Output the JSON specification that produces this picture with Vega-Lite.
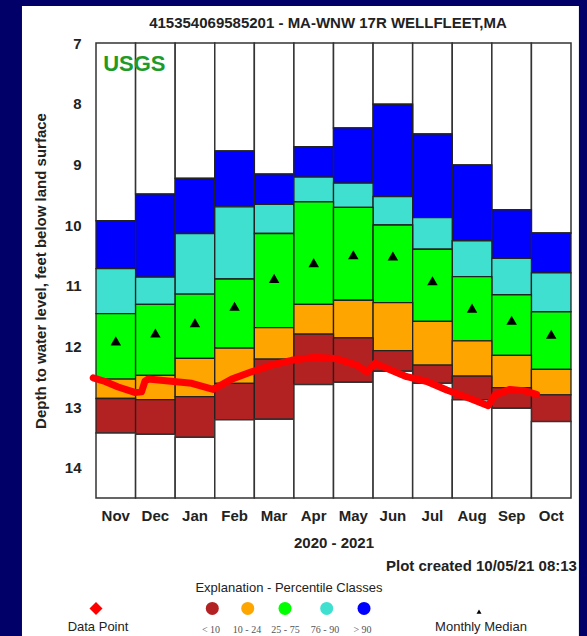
{
  "$schema": "https://vega.github.io/schema/vega-lite/v6.json",
  "width": 475,
  "height": 455,
  "autosize": {"type": "none"},
  "padding": {"left": 96, "top": 43, "right": 16, "bottom": 138},
  "background": "white",
  "config": {"view": {"stroke": null}, "font": "Liberation Sans"},
  "data": {"values": [
    {"month": "Nov", "p100": 9.93, "p90": 10.72, "p75": 11.46, "p25": 12.54, "p10": 12.86, "p0": 13.43, "med": 11.91},
    {"month": "Dec", "p100": 9.49, "p90": 10.86, "p75": 11.31, "p25": 12.48, "p10": 12.88, "p0": 13.45, "med": 11.78},
    {"month": "Jan", "p100": 9.23, "p90": 10.14, "p75": 11.14, "p25": 12.2, "p10": 12.83, "p0": 13.5, "med": 11.61},
    {"month": "Feb", "p100": 8.78, "p90": 9.7, "p75": 10.89, "p25": 12.03, "p10": 12.61, "p0": 13.21, "med": 11.34},
    {"month": "Mar", "p100": 9.16, "p90": 9.66, "p75": 10.14, "p25": 11.69, "p10": 12.21, "p0": 13.2, "med": 10.88},
    {"month": "Apr", "p100": 8.71, "p90": 9.21, "p75": 9.62, "p25": 11.31, "p10": 11.8, "p0": 12.63, "med": 10.62},
    {"month": "May", "p100": 8.4, "p90": 9.31, "p75": 9.71, "p25": 11.24, "p10": 11.86, "p0": 12.59, "med": 10.49},
    {"month": "Jun", "p100": 8.01, "p90": 9.53, "p75": 10.0, "p25": 11.28, "p10": 12.07, "p0": 12.41, "med": 10.51},
    {"month": "Jul", "p100": 8.5, "p90": 9.88, "p75": 10.4, "p25": 11.59, "p10": 12.31, "p0": 12.61, "med": 10.92},
    {"month": "Aug", "p100": 9.01, "p90": 10.26, "p75": 10.85, "p25": 11.91, "p10": 12.49, "p0": 12.88, "med": 11.37},
    {"month": "Sep", "p100": 9.75, "p90": 10.55, "p75": 11.15, "p25": 12.15, "p10": 12.68, "p0": 13.02, "med": 11.57},
    {"month": "Oct", "p100": 10.13, "p90": 10.79, "p75": 11.43, "p25": 12.38, "p10": 12.8, "p0": 13.24, "med": 11.8}
  ]},
  "resolve": {"scale": {"x": "independent"}},
  "layer": [
    {
      "data": {"values": [{}]},
      "layer": [
        {
          "mark": {"type": "rect", "fill": "#000068", "clip": false},
          "encoding": {
            "x": {"datum": -3, "type": "quantitative", "scale": {"domain": [0, 12], "nice": false, "zero": false}, "axis": null},
            "x2": {"datum": -1.87},
            "y": {"datum": 6.0, "type": "quantitative"},
            "y2": {"datum": 17}
          }
        },
        {
          "mark": {"type": "rect", "fill": "#000068", "clip": false},
          "encoding": {
            "x": {"datum": 12.2, "type": "quantitative", "axis": null},
            "x2": {"datum": 12.6},
            "y": {"datum": 6.0, "type": "quantitative"},
            "y2": {"datum": 17}
          }
        },
        {
          "mark": {"type": "rect", "fill": "#000068", "clip": false},
          "encoding": {
            "x": {"datum": -3, "type": "quantitative", "axis": null},
            "x2": {"datum": 12.6},
            "y": {"datum": 6.0, "type": "quantitative"},
            "y2": {"datum": 6.39}
          }
        }
      ]
    },
    {
      "encoding": {
        "x": {"field": "month", "type": "nominal",
          "scale": {"domain": ["Nov", "Dec", "Jan", "Feb", "Mar", "Apr", "May", "Jun", "Jul", "Aug", "Sep", "Oct"], "paddingInner": 0, "paddingOuter": 0},
          "axis": {"ticks": false, "tickSize": 0, "domain": false, "grid": false, "labelAngle": 0, "labelFontSize": 15, "labelFontWeight": "bold", "labelColor": "#222222", "labelPadding": 10, "title": "2020 - 2021", "titleFontSize": 15, "titleFontWeight": "bold", "titleColor": "#222222", "titlePadding": 12, "zindex": 1}}
      },
      "layer": [
        {
          "mark": {"type": "bar", "fill": "white", "stroke": "#333333", "strokeWidth": 1.5},
          "encoding": {
            "y": {"field": "p100", "type": "quantitative",
              "scale": {"domain": [7, 14.5], "reverse": true, "nice": false, "zero": false},
              "axis": {"orient": "left", "values": [7, 8, 9, 10, 11, 12, 13, 14], "format": "d", "ticks": false, "tickSize": 0, "domain": false, "grid": false, "labelFontSize": 15, "labelFontWeight": "bold", "labelColor": "#222222", "labelPadding": 15, "title": "Depth to water level, feet below land surface", "titleFontSize": 15, "titleFontWeight": "bold", "titleColor": "#222222", "titlePadding": 16, "zindex": 1}},
            "y2": {"datum": 7}
          }
        },
        {
          "mark": {"type": "bar", "fill": "#0000FF", "stroke": "#222222", "strokeWidth": 1.3},
          "encoding": {"y": {"field": "p100", "type": "quantitative"}, "y2": {"field": "p90"}}
        },
        {
          "mark": {"type": "bar", "fill": "#40E0D0", "stroke": "#222222", "strokeWidth": 1.3},
          "encoding": {"y": {"field": "p90", "type": "quantitative"}, "y2": {"field": "p75"}}
        },
        {
          "mark": {"type": "bar", "fill": "#00FF00", "stroke": "#222222", "strokeWidth": 1.3},
          "encoding": {"y": {"field": "p75", "type": "quantitative"}, "y2": {"field": "p25"}}
        },
        {
          "mark": {"type": "bar", "fill": "#FFA500", "stroke": "#222222", "strokeWidth": 1.3},
          "encoding": {"y": {"field": "p25", "type": "quantitative"}, "y2": {"field": "p10"}}
        },
        {
          "mark": {"type": "bar", "fill": "#B22222", "stroke": "#222222", "strokeWidth": 1.3},
          "encoding": {"y": {"field": "p10", "type": "quantitative"}, "y2": {"field": "p0"}}
        },
        {
          "mark": {"type": "bar", "fill": "white", "stroke": "#333333", "strokeWidth": 1.5},
          "encoding": {"y": {"field": "p0", "type": "quantitative"}, "y2": {"datum": 14.5}}
        },
        {
          "mark": {"type": "point", "shape": "triangle-up", "filled": true, "color": "black", "size": 110, "opacity": 1},
          "encoding": {"y": {"field": "med", "type": "quantitative"}}
        }
      ]
    },
    {
      "data": {"values": [{}]},
      "layer": [
        {
          "data": {"values": [
            {"t": -0.07, "depth": 12.52}, {"t": 0.23, "depth": 12.58}, {"t": 0.56, "depth": 12.67}, {"t": 0.98, "depth": 12.76},
            {"t": 1.15, "depth": 12.75}, {"t": 1.24, "depth": 12.57}, {"t": 1.32, "depth": 12.54}, {"t": 1.83, "depth": 12.57},
            {"t": 2.42, "depth": 12.61}, {"t": 2.96, "depth": 12.71}, {"t": 3.43, "depth": 12.54}, {"t": 3.93, "depth": 12.42},
            {"t": 4.44, "depth": 12.31}, {"t": 4.94, "depth": 12.23}, {"t": 5.53, "depth": 12.18}, {"t": 6.04, "depth": 12.2},
            {"t": 6.25, "depth": 12.24}, {"t": 6.59, "depth": 12.31}, {"t": 6.84, "depth": 12.42}, {"t": 7.05, "depth": 12.28},
            {"t": 7.34, "depth": 12.36}, {"t": 7.85, "depth": 12.5}, {"t": 8.36, "depth": 12.58}, {"t": 8.86, "depth": 12.72},
            {"t": 9.45, "depth": 12.86}, {"t": 9.91, "depth": 12.98}, {"t": 10.08, "depth": 12.8}, {"t": 10.46, "depth": 12.71},
            {"t": 10.8, "depth": 12.73}, {"t": 11.13, "depth": 12.79}
          ]},
          "mark": {"type": "line", "color": "#FF0000", "strokeWidth": 7, "strokeCap": "round", "strokeJoin": "round", "clip": false},
          "encoding": {
            "x": {"field": "t", "type": "quantitative", "scale": {"domain": [0, 12], "nice": false, "zero": false}, "axis": null},
            "y": {"field": "depth", "type": "quantitative"}
          }
        },
        {
          "mark": {"type": "text", "text": "415354069585201 - MA-WNW 17R WELLFLEET,MA", "align": "center", "baseline": "middle", "fontSize": 15, "fontWeight": "bold", "color": "#222222", "clip": false},
          "encoding": {"x": {"datum": 5.86, "type": "quantitative", "axis": null}, "y": {"datum": 6.675, "type": "quantitative"}}
        },
        {
          "mark": {"type": "text", "text": "USGS", "align": "left", "baseline": "middle", "fontSize": 22, "fontWeight": "bold", "color": "#1E9A28"},
          "encoding": {"x": {"datum": 0.18, "type": "quantitative", "axis": null}, "y": {"datum": 7.35, "type": "quantitative"}}
        },
        {
          "mark": {"type": "text", "text": "Plot created 10/05/21 08:13", "align": "right", "baseline": "middle", "fontSize": 15, "fontWeight": "bold", "color": "#222222", "clip": false},
          "encoding": {"x": {"datum": 12.15, "type": "quantitative", "axis": null}, "y": {"datum": 15.62, "type": "quantitative"}}
        },
        {
          "mark": {"type": "text", "text": "Explanation - Percentile Classes", "align": "center", "baseline": "middle", "fontSize": 13, "color": "#222222", "clip": false},
          "encoding": {"x": {"datum": 4.876, "type": "quantitative", "axis": null}, "y": {"datum": 15.98, "type": "quantitative"}}
        },
        {
          "mark": {"type": "point", "shape": "diamond", "filled": true, "color": "#FF0000", "size": 169, "opacity": 1, "clip": false},
          "encoding": {"x": {"datum": 0.0, "type": "quantitative", "axis": null}, "y": {"datum": 16.32, "type": "quantitative"}}
        },
        {
          "mark": {"type": "text", "text": "Data Point", "align": "center", "baseline": "middle", "fontSize": 13, "color": "#222222", "clip": false},
          "encoding": {"x": {"datum": 0.05, "type": "quantitative", "axis": null}, "y": {"datum": 16.62, "type": "quantitative"}}
        },
        {
          "mark": {"type": "point", "shape": "circle", "filled": true, "color": "#B22222", "size": 169, "opacity": 1, "clip": false},
          "encoding": {"x": {"datum": 2.938, "type": "quantitative", "axis": null}, "y": {"datum": 16.32, "type": "quantitative"}}
        },
        {
          "mark": {"type": "point", "shape": "circle", "filled": true, "color": "#FFA500", "size": 169, "opacity": 1, "clip": false},
          "encoding": {"x": {"datum": 3.833, "type": "quantitative", "axis": null}, "y": {"datum": 16.32, "type": "quantitative"}}
        },
        {
          "mark": {"type": "point", "shape": "circle", "filled": true, "color": "#00FF00", "size": 169, "opacity": 1, "clip": false},
          "encoding": {"x": {"datum": 4.775, "type": "quantitative", "axis": null}, "y": {"datum": 16.32, "type": "quantitative"}}
        },
        {
          "mark": {"type": "point", "shape": "circle", "filled": true, "color": "#40E0D0", "size": 169, "opacity": 1, "clip": false},
          "encoding": {"x": {"datum": 5.828, "type": "quantitative", "axis": null}, "y": {"datum": 16.32, "type": "quantitative"}}
        },
        {
          "mark": {"type": "point", "shape": "circle", "filled": true, "color": "#0000FF", "size": 169, "opacity": 1, "clip": false},
          "encoding": {"x": {"datum": 6.771, "type": "quantitative", "axis": null}, "y": {"datum": 16.32, "type": "quantitative"}}
        },
        {
          "mark": {"type": "text", "text": "< 10", "align": "center", "baseline": "middle", "fontSize": 10, "font": "Liberation Serif", "color": "#555555", "clip": false},
          "encoding": {"x": {"datum": 2.905, "type": "quantitative", "axis": null}, "y": {"datum": 16.675, "type": "quantitative"}}
        },
        {
          "mark": {"type": "text", "text": "10 - 24", "align": "center", "baseline": "middle", "fontSize": 10, "font": "Liberation Serif", "color": "#555555", "clip": false},
          "encoding": {"x": {"datum": 3.815, "type": "quantitative", "axis": null}, "y": {"datum": 16.675, "type": "quantitative"}}
        },
        {
          "mark": {"type": "text", "text": "25 - 75", "align": "center", "baseline": "middle", "fontSize": 10, "font": "Liberation Serif", "color": "#555555", "clip": false},
          "encoding": {"x": {"datum": 4.787, "type": "quantitative", "axis": null}, "y": {"datum": 16.675, "type": "quantitative"}}
        },
        {
          "mark": {"type": "text", "text": "76 - 90", "align": "center", "baseline": "middle", "fontSize": 10, "font": "Liberation Serif", "color": "#555555", "clip": false},
          "encoding": {"x": {"datum": 5.785, "type": "quantitative", "axis": null}, "y": {"datum": 16.675, "type": "quantitative"}}
        },
        {
          "mark": {"type": "text", "text": "> 90", "align": "center", "baseline": "middle", "fontSize": 10, "font": "Liberation Serif", "color": "#555555", "clip": false},
          "encoding": {"x": {"datum": 6.733, "type": "quantitative", "axis": null}, "y": {"datum": 16.675, "type": "quantitative"}}
        },
        {
          "mark": {"type": "point", "shape": "triangle-up", "filled": true, "color": "black", "size": 25, "opacity": 1, "clip": false},
          "encoding": {"x": {"datum": 9.676, "type": "quantitative", "axis": null}, "y": {"datum": 16.374, "type": "quantitative"}}
        },
        {
          "mark": {"type": "text", "text": "Monthly Median", "align": "center", "baseline": "middle", "fontSize": 13, "color": "#222222", "clip": false},
          "encoding": {"x": {"datum": 9.726, "type": "quantitative", "axis": null}, "y": {"datum": 16.63, "type": "quantitative"}}
        }
      ]
    }
  ]
}
